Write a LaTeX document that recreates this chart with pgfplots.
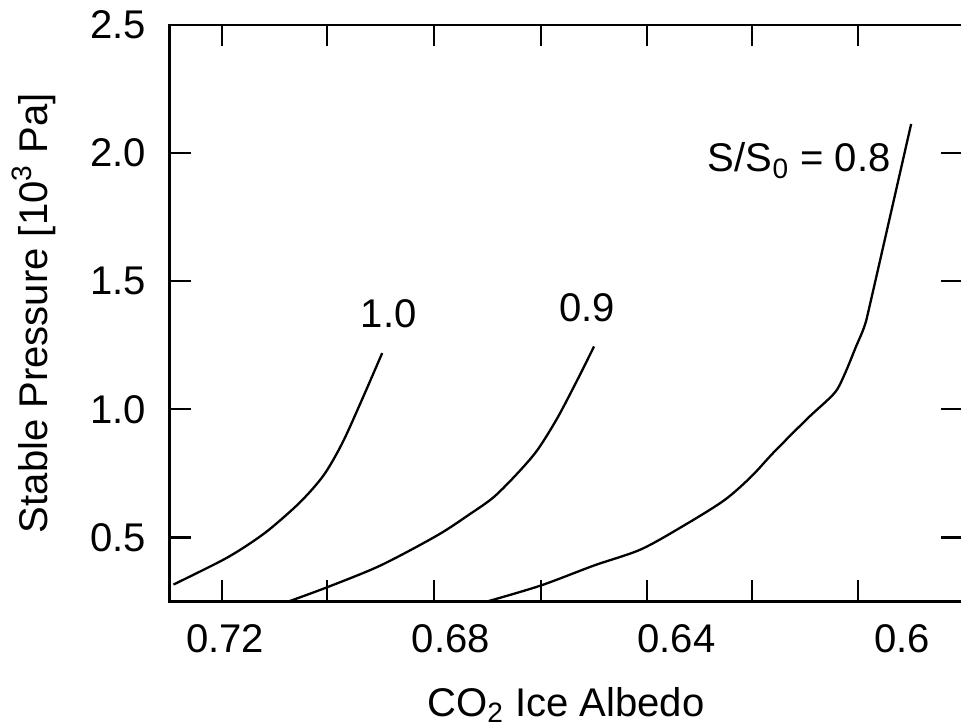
\documentclass[border=0pt]{standalone}
\usepackage{fontspec}
\setmainfont{Liberation Sans}
\usepackage{pgfplots}
\pgfplotsset{compat=1.18}
\newcommand{\lblfont}{\fontsize{20}{24}\selectfont}
\begin{document}
\begin{tikzpicture}
\begin{axis}[
  scale only axis,
  width=395.85pt, height=287.85pt,
  x dir=reverse,
  xmin=0.58935, xmax=0.72989,
  ymin=0.25, ymax=2.5,
  axis line style={line width=1.15pt},
  every tick/.style={black, line width=1.15pt},
  tick align=inside,
  tick pos=both,
  major tick length=10.5pt,
  xtick={0.72059,0.70195,0.68302,0.66408,0.64526,0.62662,0.60786},
  xticklabels={},
  extra x ticks={0.72,0.68,0.64,0.6},
  extra x tick labels={0.72,0.68,0.64,0.6},
  extra x tick style={major tick length=0pt},
  ytick={0.5,1.0,1.5,2.0,2.5},
  yticklabels={0.5,1.0,1.5,2.0,2.5},
  /pgf/number format/assume math mode=true,
  tick label style={font=\lblfont},
  xticklabel shift=7.8pt,
  yticklabel shift=8.2pt,
  every axis x label/.style={at={(axis description cs:0.5,-0.2)}, anchor=base, font=\lblfont},
  every axis y label/.style={at={(axis description cs:-0.1545,0.5)}, rotate=90, anchor=base, font=\lblfont},
  xlabel={CO\textsubscript{2} Ice Albedo},
  ylabel={Stable Pressure [10\textsuperscript{3} Pa]},
]
% S/S0 = 1.0
\addplot[black, line width=1.15pt, no marks, smooth, tension=0.5] coordinates {
(0.72918,0.3159) (0.72059,0.4099) (0.71615,0.4687) (0.71201,0.5341)
(0.70669,0.6383) (0.70255,0.7429) (0.69928,0.8670) (0.69604,1.0237)
(0.69218,1.2195)};
% S/S0 = 0.9
\addplot[black, line width=1.15pt, no marks, smooth, tension=0.5] coordinates {
(0.70876,0.2500) (0.70195,0.3053) (0.69249,0.3903) (0.68242,0.5078)
(0.67651,0.5928) (0.67237,0.6579) (0.66822,0.7495) (0.66467,0.8408)
(0.66112,0.9661) (0.65757,1.1150) (0.65462,1.2454)};
% S/S0 = 0.8
\addplot[black, line width=1.15pt, no marks, smooth, tension=0.5] coordinates {
(0.67354,0.2500) (0.66408,0.3120) (0.65462,0.3903) (0.64633,0.4530)
(0.63864,0.5470) (0.63154,0.6449) (0.62680,0.7362)
(0.62267,0.8341) (0.61674,0.9649) (0.61202,1.0629) (0.61024,1.1345)
(0.60816,1.2454) (0.60669,1.3237) (0.60550,1.4283)
(0.59840,2.1138)};
\node[anchor=base west, inner sep=0pt, font=\lblfont] at (axis cs:0.69604,1.3175) {1.0};
\node[anchor=base west, inner sep=0pt, font=\lblfont] at (axis cs:0.66089,1.3433) {0.9};
\node[anchor=base west, inner sep=0pt, font=\lblfont] at (axis cs:0.63449,1.9270) {S/S\textsubscript{0} = 0.8};
\end{axis}
\pgfresetboundingbox
\useasboundingbox ([xshift=-84.65pt,yshift=-62.65pt]current axis.south west) rectangle ([xshift=-0.6pt,yshift=12.5pt]current axis.north east);
\end{tikzpicture}
\end{document}
